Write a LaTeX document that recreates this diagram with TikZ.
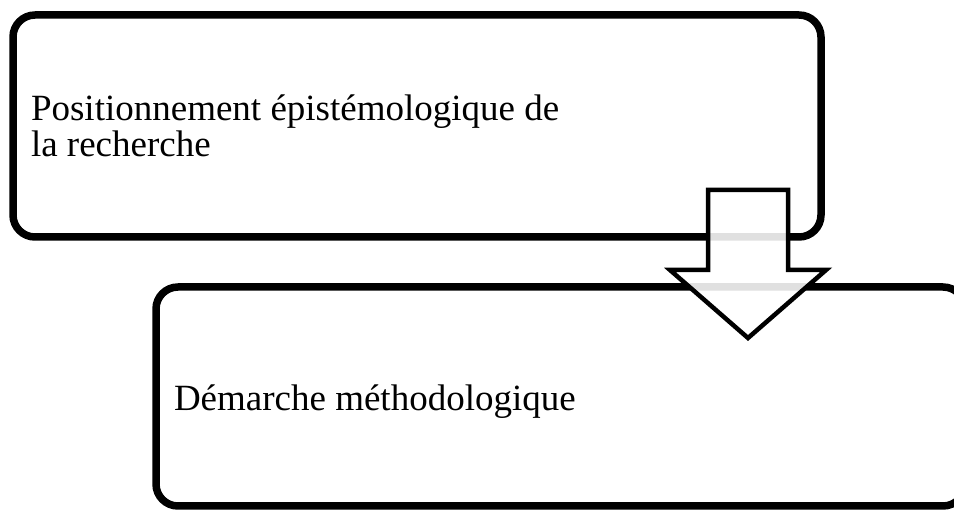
\documentclass[tikz,border=0pt]{standalone}
\usepackage{fontspec}
\setmainfont{Liberation Serif}
\usetikzlibrary{shadows}
\definecolor{shadowgray}{RGB}{120, 120, 120}

\begin{document}
\begin{tikzpicture}[x=1pt, y=-1pt]
  \useasboundingbox (0,0) rectangle (954,510);

  % Step boxes
  \node[draw=black, fill=white, line width=7.5pt, rounded corners=22pt, minimum width=808pt, minimum height=222pt, text width=772pt, inner xsep=18pt, inner ysep=0pt, align=flush left, font=\fontsize{37}{36}\selectfont, drop shadow={shadow xshift=2pt, shadow yshift=-3pt, fill=shadowgray, opacity=0.15}] (posbox) at (417, 126) {Positionnement épistémologique de\\la recherche};

  \node[draw=black, fill=white, line width=7.5pt, rounded corners=22pt, minimum width=809pt, minimum height=219pt, text width=773pt, inner xsep=18pt, inner ysep=0pt, text height=36.5pt, align=flush left, font=\fontsize{37}{36}\selectfont, drop shadow={shadow xshift=2pt, shadow yshift=-3pt, fill=shadowgray, opacity=0.15}] (demarchebox) at (560.5, 396.5) {Démarche méthodologique};

  % Block arrow between the boxes
  \coordinate (arrowtop) at (748, 190);
  \draw[draw=black, line width=4.5pt, fill=white, fill opacity=0.88] (arrowtop) ++(-40,0) -- ++(80,0) -- ++(0,80) -- ++(38,0) -- ++(-78,68) -- ++(-78,-68) -- ++(38,0) -- cycle;
\end{tikzpicture}
\end{document}
